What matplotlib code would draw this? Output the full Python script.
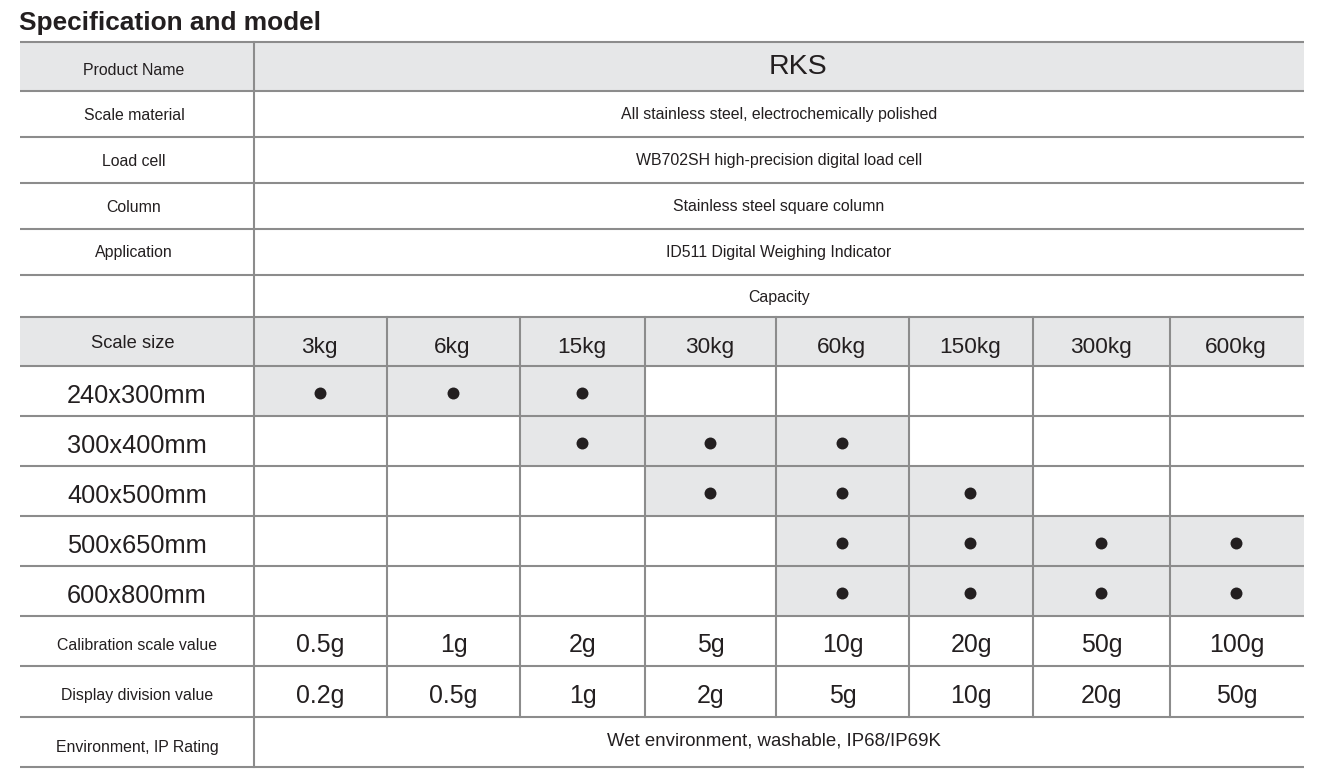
import matplotlib
matplotlib.use('Agg')
from matplotlib import pyplot as plt
from matplotlib.patches import Rectangle

# 表格数据
title = 'Specification and model'
spec_labels = ['Product Name', 'Scale material', 'Load cell', 'Column', 'Application']
spec_values = ['RKS', 'All stainless steel, electrochemically polished',
               'WB702SH high-precision digital load cell',
               'Stainless steel square column', 'ID511 Digital Weighing Indicator']
capacity_title = 'Capacity'
size_header = 'Scale size'
capacities = ['3kg', '6kg', '15kg', '30kg', '60kg', '150kg', '300kg', '600kg']
sizes = ['240x300mm', '300x400mm', '400x500mm', '500x650mm', '600x800mm']
# 1 = 该尺寸有此量程
available = [
    [1, 1, 1, 0, 0, 0, 0, 0],
    [0, 0, 1, 1, 1, 0, 0, 0],
    [0, 0, 0, 1, 1, 1, 0, 0],
    [0, 0, 0, 0, 1, 1, 1, 1],
    [0, 0, 0, 0, 1, 1, 1, 1],
]
calib_label = 'Calibration scale value'
calib_values = ['0.5g', '1g', '2g', '5g', '10g', '20g', '50g', '100g']
div_label = 'Display division value'
div_values = ['0.2g', '0.5g', '1g', '2g', '5g', '10g', '20g', '50g']
env_label = 'Environment, IP Rating'
env_value = 'Wet environment, washable, IP68/IP69K'

# 布局 (像素)
col_x = [20, 254, 387, 520, 645, 776, 909, 1033, 1170, 1304]
row_y = [42, 91, 137, 183, 229, 275, 317, 366, 416, 466, 516, 566, 616, 666, 717, 767]
LINE = '#8c8c8c'
FILL = '#e6e7e8'
TXT = '#231f20'
FONT = 'Liberation Sans'

fig = plt.figure(figsize=(13.17, 7.72), dpi=100)
ax = fig.add_axes([0, 0, 1, 1])
ax.set_xlim(0, 1317)
ax.set_ylim(772, 0)
ax.axis('off')

left, mid, right = col_x[0], col_x[1], col_x[-1]


def rc(i):
    return (row_y[i] + row_y[i + 1]) / 2


def cc(j):
    return (col_x[j + 1] + col_x[j + 2]) / 2


def put(x, y, s, size, **kw):
    ax.text(x, y, s, fontsize=size, family=FONT, color=TXT, ha='center', va='baseline', **kw)


# 灰色底
ax.add_patch(Rectangle((left, row_y[0]), right - left, row_y[1] - row_y[0], fc=FILL, ec='none'))
ax.add_patch(Rectangle((left, row_y[6]), right - left, row_y[7] - row_y[6], fc=FILL, ec='none'))
for i, row in enumerate(available):
    for j, v in enumerate(row):
        if v:
            ax.add_patch(Rectangle((col_x[j + 1], row_y[7 + i]), col_x[j + 2] - col_x[j + 1],
                                   row_y[8 + i] - row_y[7 + i], fc=FILL, ec='none'))
            ax.plot(cc(j) - 1, rc(7 + i) + 1.5, 'o', ms=8.6, color=TXT, mec='none')

# 线
for y in row_y:
    ax.plot([left, right], [y, y], color=LINE, lw=1.5, solid_capstyle='butt')
ax.plot([mid, mid], [row_y[0], row_y[-1]], color=LINE, lw=1.5)
for x in col_x[2:-1]:
    ax.plot([x, x], [row_y[6], row_y[14]], color=LINE, lw=1.5)

# 文字
ax.text(19, 30, title, fontsize=18.9, family=FONT, weight='bold', color=TXT, ha='left', va='baseline')
left_c = (left + mid) / 2
mid_c = (mid + right) / 2
offs = [8.5, 5.5, 5.5, 5.5, 5.5]
for i, (lab, val) in enumerate(zip(spec_labels, spec_values)):
    put(left_c - 3, rc(i) + offs[i], lab, 11.4)
    if i == 0:
        put(mid_c + 19, rc(i) + 7, val, 20.5)
    else:
        put(mid_c, rc(i) + 5, val, 11.4)
put(mid_c, rc(5) + 5.7, capacity_title, 11.4)
put(left_c - 4, rc(6) + 6.5, size_header, 13.2)
for j, c in enumerate(capacities):
    put(cc(j) - 1, rc(6) + 11.5, c, 16.2)
for i, s in enumerate(sizes):
    put(left_c, rc(7 + i) + 12, s, 18.3)
put(left_c, rc(12) + 9, calib_label, 11.4)
put(left_c, rc(13) + 8.5, div_label, 11.4)
for j in range(len(capacities)):
    put(cc(j), rc(12) + 11, calib_values[j], 17.9)
    put(cc(j), rc(13) + 11, div_values[j], 17.9)
put(left_c, rc(14) + 9.7, env_label, 11.4)
put(mid_c - 5, rc(14) + 3, env_value, 13.4)

plt.savefig('out.png', dpi=100)
